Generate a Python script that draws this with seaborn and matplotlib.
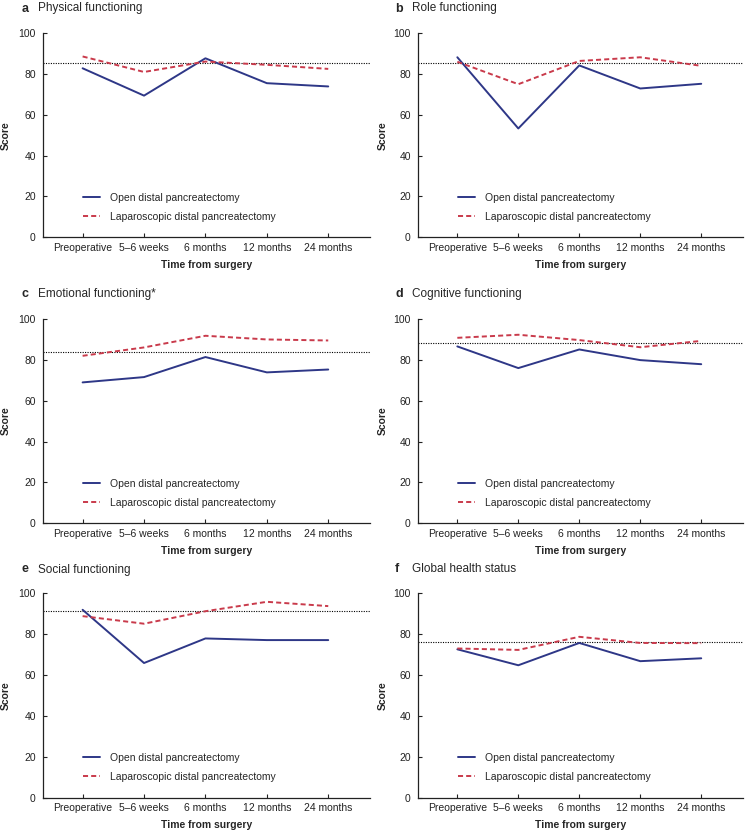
import numpy as np
import pandas as pd
import matplotlib
matplotlib.use("Agg")
import matplotlib.pyplot as plt
import seaborn as sns

timepoints = ["Preoperative", "5–6 weeks", "6 months", "12 months", "24 months"]
groups = ["Open distal pancreatectomy", "Laparoscopic distal pancreatectomy"]
panel_letters = ["a", "b", "c", "d", "e", "f"]
panel_titles = ["Physical functioning", "Role functioning", "Emotional functioning*",
                "Cognitive functioning", "Social functioning", "Global health status"]

open_physical = [82.8, 69.4, 87.7, 75.5, 73.9]
lap_physical = [88.6, 81.0, 86.1, 84.5, 82.5]
open_role = [88.2, 53.3, 84.2, 72.9, 75.2]
lap_role = [86.0, 75.0, 86.4, 88.2, 84.0]
open_emotional = [68.9, 71.5, 81.3, 73.8, 75.2]
lap_emotional = [81.9, 86.0, 91.7, 89.9, 89.4]
open_cognitive = [86.5, 75.9, 85.0, 79.8, 77.8]
lap_cognitive = [90.7, 92.2, 89.6, 86.1, 89.2]
open_social = [91.7, 65.7, 77.7, 76.9, 76.9]
lap_social = [88.6, 84.9, 91.0, 95.6, 93.5]
open_global = [72.4, 64.6, 75.5, 66.6, 68.0]
lap_global = [72.8, 72.1, 78.5, 75.5, 75.4]
reference_values = [85.2, 85.3, 83.7, 88.1, 90.9, 76.2]

open_series = [open_physical, open_role, open_emotional, open_cognitive, open_social, open_global]
lap_series = [lap_physical, lap_role, lap_emotional, lap_cognitive, lap_social, lap_global]
y_ticks = [0, 20, 40, 60, 80, 100]

sns.set_style("ticks")
plt.rcParams["font.family"] = ["Liberation Sans", "DejaVu Sans"]

W, H = 745, 831
fig = plt.figure(figsize=(W / 100, H / 100), dpi=100)

col_left_px = [42.7, 417.7]
col_right_px = [370.0, 742.7]
row_top_px = [33.2, 318.8, 592.8]
row_bot_px = [237.2, 523.3, 797.5]
letter_x_px = [22, 395]
title_x_px = [38.5, 412]
title_y_px = [8.5, 294, 569.5]
ylabel_right_px = [11.0, 387.5]

palette = {groups[0]: "#2e3787", groups[1]: "#c93a4b"}
dashes = {groups[0]: "", groups[1]: (2.6, 1.6)}

for i in range(6):
    r, c = divmod(i, 2)
    l = col_left_px[c]
    rr = col_right_px[c]
    t = row_top_px[r]
    b = row_bot_px[r]
    ax = fig.add_axes([l / W, 1 - b / H, (rr - l) / W, (b - t) / H])

    df = pd.DataFrame({
        "Time": timepoints * 2,
        "Score": list(open_series[i]) + list(lap_series[i]),
        "Group": [groups[0]] * 5 + [groups[1]] * 5,
    })
    sns.lineplot(data=df, x="Time", y="Score", hue="Group", style="Group",
                 hue_order=groups, style_order=groups,
                 palette=palette, dashes=dashes, linewidth=1.4,
                 sort=False, ax=ax)
    ax.axhline(reference_values[i], color="black", linestyle=(0, (1, 1.2)),
               linewidth=0.8, zorder=1)

    ax.set_xlim(-0.65, 4.68)
    ax.set_ylim(0, 100)
    ax.set_yticks(y_ticks)
    ax.set_xticks(range(len(timepoints)))
    ax.set_xticklabels(timepoints)
    ax.tick_params(axis="both", direction="in", length=3, width=0.8,
                   labelsize=7.5, colors="#222222")
    ax.tick_params(axis="y", pad=5)
    ax.tick_params(axis="x", pad=4)
    for side in ["top", "right"]:
        ax.spines[side].set_visible(False)
    for side in ["left", "bottom"]:
        ax.spines[side].set_linewidth(0.9)
        ax.spines[side].set_color("#222222")

    ax.set_xlabel("Time from surgery", fontsize=7.5, fontweight="bold")
    ax.set_ylabel("Score", fontsize=7.5, fontweight="bold")
    wpx = rr - l
    hpx = b - t
    ax.xaxis.set_label_coords(0.5, -23.0 / hpx)
    ax.yaxis.set_label_coords((ylabel_right_px[c] - l) / wpx, 0.5)

    ax.legend(loc="center left", bbox_to_anchor=((83 + (0 if c == 0 else 375) - l) / wpx, 30.0 / hpx),
              frameon=False, fontsize=7.5, handlelength=1.65, handletextpad=0.95,
              labelspacing=0.85, borderpad=0, borderaxespad=0)

    fig.text(letter_x_px[c] / W, 1 - title_y_px[r] / H, panel_letters[i],
             fontsize=9, fontweight="bold", va="center", ha="left")
    fig.text(title_x_px[c] / W, 1 - title_y_px[r] / H, panel_titles[i],
             fontsize=8.5, va="center", ha="left")

fig.savefig("out.png", dpi=100)
